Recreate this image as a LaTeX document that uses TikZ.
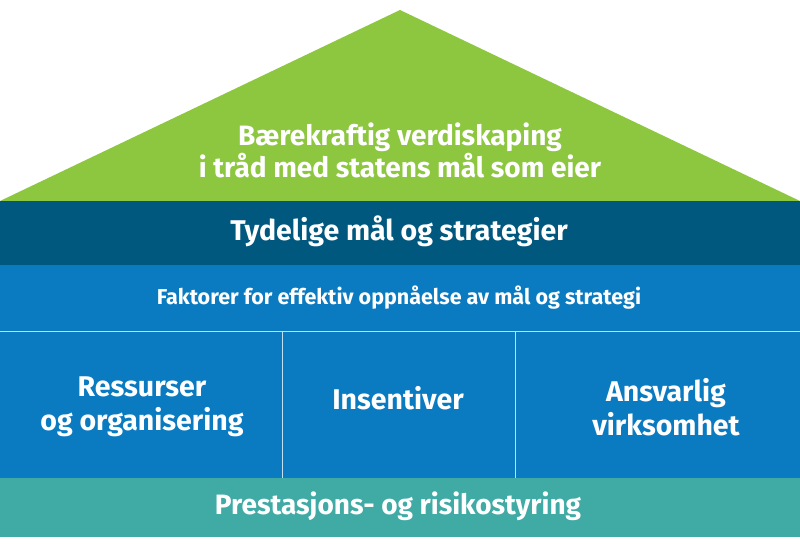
\documentclass[tikz,border=0pt]{standalone}
\usepackage{fontspec}
\setmainfont{Fira Sans}
\definecolor{roof}{HTML}{8DC63F}
\definecolor{dark}{HTML}{00587F}
\definecolor{mid}{HTML}{0A7BC1}
\definecolor{teal}{HTML}{40AAA5}
\tikzset{lbl/.style={text=white,font=\bfseries,align=center},sep/.style={draw=white!75!mid,line width=0.8pt}}
\begin{document}
\begin{tikzpicture}[x=1pt,y=-1pt]
\useasboundingbox (0,0) rectangle (800,546);
\fill[roof] (0,201) -- (400,10) -- (800,201) -- cycle;
\fill[dark] (0,201) rectangle (800,265);
\fill[mid] (0,265) rectangle (800,478);
\fill[teal] (0,478) rectangle (800,537);
\draw[sep] (0,331) -- (800,331);
\draw[sep] (282,331) -- (282,478);
\draw[sep] (515,331) -- (515,478);
\node[lbl,font=\bfseries\fontsize{28}{32}\selectfont] (roofT) at (400,150) {Bærekraftig verdiskaping\\i tråd med statens mål som eier};
\node[lbl,font=\bfseries\fontsize{28.5}{32}\selectfont] (goals) at (399,231) {Tydelige mål og strategier};
\node[lbl,font=\bfseries\fontsize{21.5}{24}\selectfont] (fact) at (399,298) {Faktorer for effektiv oppnåelse av mål og strategi};
\node[lbl,font=\bfseries\fontsize{28.5}{34}\selectfont] (res) at (142,407) {Ressurser\\og organisering};
\node[lbl,font=\bfseries\fontsize{28.5}{34}\selectfont] (ins) at (398,398) {Insentiver};
\node[lbl,font=\bfseries\fontsize{28.5}{34}\selectfont] (ans) at (666,407) {Ansvarlig\\virksomhet};
\node[lbl,font=\bfseries\fontsize{28}{32}\selectfont] (pre) at (398,506) {Prestasjons- og risikostyring};
\end{tikzpicture}
\end{document}
